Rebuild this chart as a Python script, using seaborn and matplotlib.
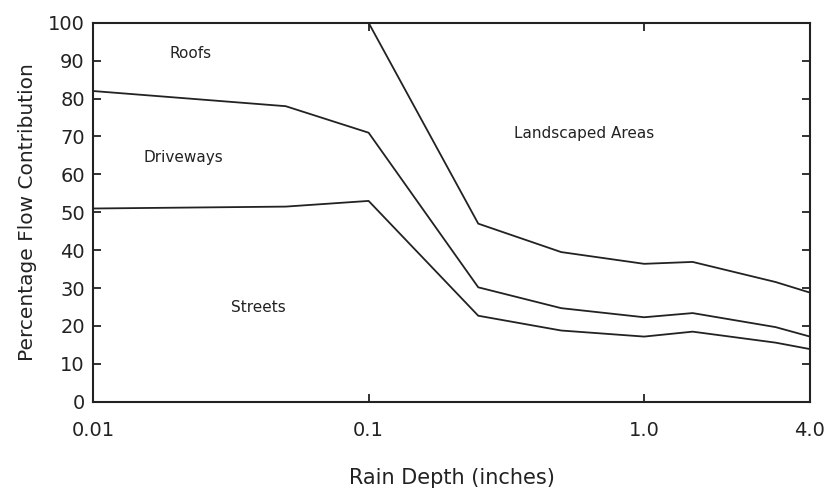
import matplotlib
matplotlib.use("Agg")
import matplotlib.pyplot as plt
import seaborn as sns
import pandas as pd

rain_depth = [0.01, 0.05, 0.1, 0.25, 0.5, 1.0, 1.5, 3.0, 4.0]
streets_top = [51, 51.5, 53, 22.7, 18.8, 17.2, 18.5, 15.6, 13.9]
driveways_top = [82, 78, 71, 30.2, 24.7, 22.3, 23.4, 19.7, 17.2]
roofs_top = [100, 100, 100, 47, 39.5, 36.4, 36.9, 31.6, 28.8]

area_labels = ["Roofs", "Driveways", "Streets", "Landscaped Areas"]
label_x = [0.0225, 0.0212, 0.0398, 0.605]
label_y = [92, 64.4, 24.8, 70.7]

xtick_vals = [0.01, 0.1, 1.0, 4.0]
xtick_labels = ["0.01", "0.1", "1.0", "4.0"]
ytick_vals = list(range(0, 101, 10))

df = pd.concat([
    pd.DataFrame({"x": rain_depth, "y": streets_top, "s": "Streets"}),
    pd.DataFrame({"x": rain_depth, "y": driveways_top, "s": "Driveways"}),
    pd.DataFrame({"x": rain_depth, "y": roofs_top, "s": "Roofs"}),
])

sns.set_theme(style="ticks")
plt.rcParams["font.family"] = ["DejaVu Sans"]

fig = plt.figure(figsize=(8.24, 4.96), dpi=100)
ax = fig.add_axes([0.113, 0.19, 0.870, 0.764])

sns.lineplot(data=df, x="x", y="y", hue="s", palette=["#222222"] * 3,
             linewidth=1.3, legend=False, ax=ax, sort=False, estimator=None)

ax.set_xscale("log")
ax.set_xlim(0.01, 4.0)
ax.set_ylim(0, 100)
ax.set_xticks(xtick_vals)
ax.set_xticklabels(xtick_labels)
ax.minorticks_off()
ax.set_yticks(ytick_vals)

ax.tick_params(axis="both", direction="in", length=6, width=1.3, colors="#222222",
               labelsize=14, top=True, right=True)
ax.tick_params(axis="x", pad=14)
ax.tick_params(axis="y", pad=6)
for sp in ax.spines.values():
    sp.set_visible(True)
    sp.set_linewidth(1.5)
    sp.set_color("#222222")

for t, xx, yy in zip(area_labels, label_x, label_y):
    ax.text(xx, yy, t, fontsize=11, ha="center", va="center", color="#222222")

ax.set_xlabel("Rain Depth (inches)", fontsize=15, labelpad=20, color="#222222")
ax.set_ylabel("Percentage Flow Contribution", fontsize=14.5, labelpad=8, color="#222222")

fig.savefig("out.png", dpi=100)
